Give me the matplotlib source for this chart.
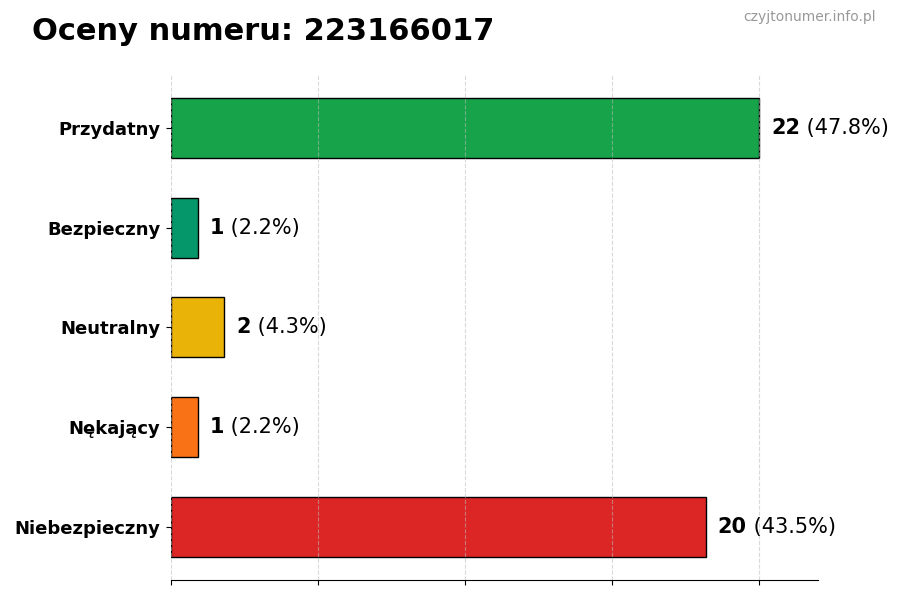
import matplotlib
matplotlib.use("Agg")
import matplotlib.pyplot as plt
import numpy as np

categories = ["Przydatny", "Bezpieczny", "Neutralny", "Nękający", "Niebezpieczny"]
counts = [22, 1, 2, 1, 20]
colors = ["#16a34a", "#059669", "#eab308", "#f97316", "#dc2626"]

total = sum(counts)
max_count = max(counts)

fig = plt.figure(figsize=(9, 6), dpi=100)
ax = fig.add_axes([0.19, 0.0333, 0.719, 0.842])

y = np.arange(len(categories))
ax.barh(y, counts, height=0.6, color=colors, edgecolor="black", linewidth=1, zorder=1)
ax.invert_yaxis()

ax.set_xlim(0, max_count * 1.1)
ax.set_xticks(np.linspace(0, max_count, 5))
ax.set_xticklabels([])
ax.grid(axis="x", linestyle="--", color="#bbbbbb", alpha=0.55, linewidth=0.8, zorder=2)
ax.set_axisbelow(False)

ax.set_yticks(y)
ax.set_yticklabels(categories, fontsize=13, fontweight="bold")
ax.tick_params(axis="y", pad=4)

for side in ["top", "right", "left"]:
    ax.spines[side].set_visible(False)

# value labels: bold count + normal percentage
for yi, c in zip(y, counts):
    pct = c / total * 100
    t = ax.text(c + max_count * 0.02, yi, f"{c}", va="center", ha="left",
                fontsize=15, fontweight="bold")
    fig.canvas.draw()
    bb = t.get_window_extent().transformed(ax.transData.inverted())
    ax.text(bb.x1, yi, f" ({pct:.1f}%)", va="center", ha="left", fontsize=15)

fig.text(32 / 900, 1 - 31 / 600, "Oceny numeru: 223166017", fontsize=22,
         fontweight="bold", va="center", ha="left")
fig.text(876 / 900, 1 - 17 / 600, "czyjtonumer.info.pl", fontsize=10,
         color="#999999", va="center", ha="right")

fig.savefig("out.png", dpi=100)
